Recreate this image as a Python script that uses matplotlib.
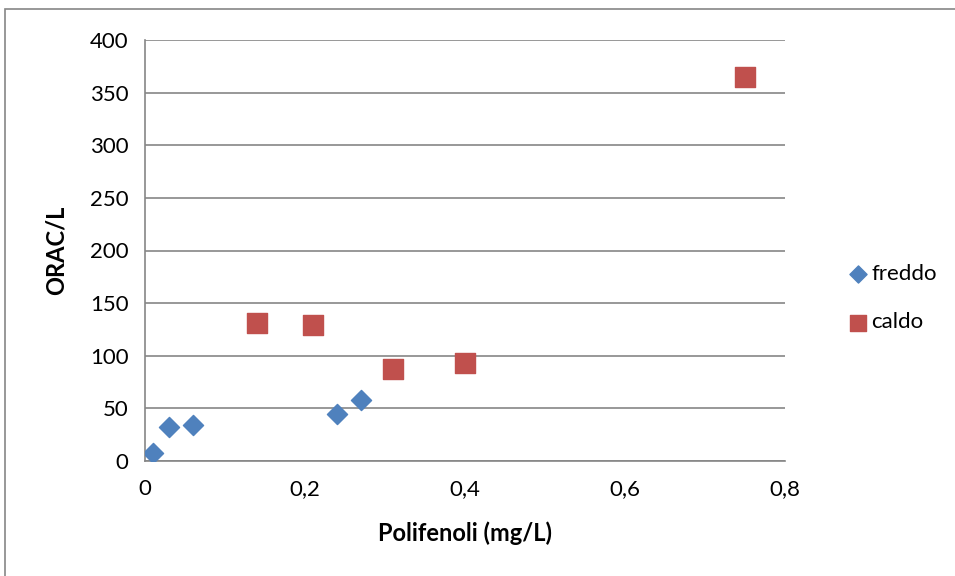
import matplotlib.pyplot as plt
from matplotlib.patches import Rectangle
from matplotlib.ticker import FuncFormatter

plt.rcParams['font.family'] = ['Lato', 'DejaVu Sans']

# dati
freddo_x = [0.01, 0.03, 0.06, 0.24, 0.27]
freddo_y = [8, 32, 34, 45, 58]
caldo_x = [0.14, 0.21, 0.31, 0.40, 0.75]
caldo_y = [131, 129, 87, 93, 365]

x_ticks = [0, 0.2, 0.4, 0.6, 0.8]
y_ticks = [0, 50, 100, 150, 200, 250, 300, 350, 400]

blue = '#4F81BD'
red = '#C0504D'
grid_col = '#868686'

fig = plt.figure(figsize=(9.55, 5.76), dpi=100)
ax = fig.add_axes([145 / 955, 1 - 461 / 576, 640 / 955, 421 / 576])

# bordo esterno del grafico
fig.patches.append(Rectangle((5 / 955, -0.1), 1.2, 1 - 9 / 576 + 0.1,
                             transform=fig.transFigure, fill=False,
                             edgecolor=grid_col, linewidth=1.2))

ax.scatter(freddo_x, freddo_y, marker='D', s=105, color=blue, label='freddo', zorder=3)
ax.scatter(caldo_x, caldo_y, marker='s', s=200, color=red, label='caldo', zorder=3)

ax.set_xlim(0, 0.8)
ax.set_ylim(0, 400)
ax.set_xticks(x_ticks)
ax.set_yticks(y_ticks)
ax.xaxis.set_major_formatter(FuncFormatter(lambda v, p: ('%g' % v).replace('.', ',')))
ax.tick_params(length=0, labelsize=16, pad=13)
ax.tick_params(axis='y', pad=12)

ax.grid(True, axis='y', color=grid_col, linewidth=1.2)
ax.set_axisbelow(True)
for side in ['top', 'right']:
    ax.spines[side].set_visible(False)
ax.spines['left'].set_color(grid_col)
ax.spines['bottom'].set_color(grid_col)
ax.spines['left'].set_linewidth(1.2)
ax.spines['bottom'].set_linewidth(1.2)

ax.set_xlabel('Polifenoli (mg/L)', fontsize=17, fontweight='bold', labelpad=16)
ax.set_ylabel('ORAC/L', fontsize=17, fontweight='bold', labelpad=16)

leg = ax.legend(loc='center left', bbox_to_anchor=(836 / 955, 1 - 298 / 576),
                bbox_transform=fig.transFigure, frameon=False, fontsize=16,
                handletextpad=0.0, labelspacing=1.3, handlelength=1.2,
                markerscale=0.85, borderaxespad=0)

fig.savefig('out.png', dpi=100)
